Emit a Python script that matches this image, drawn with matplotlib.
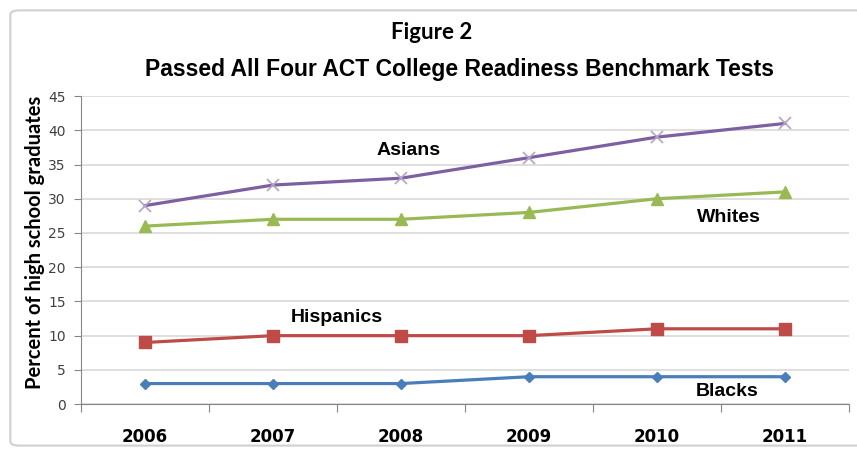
import matplotlib
matplotlib.use("Agg")
import matplotlib.pyplot as plt
from matplotlib.patches import FancyBboxPatch

years = ["2006", "2007", "2008", "2009", "2010", "2011"]
asians = [29, 32, 33, 36, 39, 41]
whites = [26, 27, 27, 28, 30, 31]
hispanics = [9, 10, 10, 10, 11, 11]
blacks = [3, 3, 3, 4, 4, 4]

fig = plt.figure(figsize=(8.57, 4.51), dpi=100)
fig.patch.set_facecolor("white")

# light rounded border round the chart area
border = FancyBboxPatch((0.012, 0.012), 1.05, 0.965, boxstyle="round,pad=0,rounding_size=0.01",
                        transform=fig.transFigure, facecolor="none", edgecolor="#d0d0d0", lw=1.5)
fig.patches.append(border)

ax = fig.add_axes([0.0945, 0.104, 0.896, 0.683])
x = range(len(years))

ax.plot(x, blacks, color="#4a7ebb", lw=2.3, marker="D", ms=5.5, zorder=3)
ax.plot(x, hispanics, color="#be4b48", lw=2.3, marker="s", ms=8, zorder=3)
ax.plot(x, whites, color="#98b954", lw=2.3, marker="^", ms=8, zorder=3)
ax.plot(x, asians, color="#7d60a0", lw=2.3, marker="x", ms=9, mec="#b3a2c7", mew=1.2, zorder=3)

ax.set_xlim(-0.5, 5.5)
ax.set_ylim(0, 45)
ax.set_yticks(range(0, 50, 5))
ax.set_xticks([i - 0.5 for i in range(7)], minor=False)
ax.set_xticklabels([])
ax.set_xticks(list(x), minor=True)
ax.set_xticklabels(years, minor=True, fontsize=12, fontweight="bold", family="Liberation Sans Narrow")
ax.tick_params(axis="x", which="major", length=6, color="#868686")
ax.tick_params(axis="x", which="minor", length=0, pad=17)
ax.tick_params(axis="y", length=5, color="#868686", labelsize=10, labelcolor="#404040", pad=6)

ax.grid(axis="y", color="#d9d9d9", lw=1.2)
ax.set_axisbelow(True)
for side in ["top", "right"]:
    ax.spines[side].set_visible(False)
ax.spines["left"].set_color("#868686")
ax.spines["bottom"].set_color("#868686")

ax.set_ylabel("Percent of high school graduates", fontsize=14.5, fontweight="bold", family="Lato")
ax.yaxis.set_label_coords(-0.047, 0.525)

lbl = dict(fontsize=14, fontweight="bold", ha="center", va="center", family="Liberation Sans")
ax.text(2.06, 37.1, "Asians", **lbl)
ax.text(4.56, 27.3, "Whites", **lbl)
ax.text(1.5, 12.6, "Hispanics", **lbl)
ax.text(4.55, 1.9, "Blacks", **lbl)

fig.text(0.504, 0.927, "Figure 2", fontsize=16, fontweight="bold", ha="center", va="center", family="Lato")
fig.text(0.536, 0.845, "Passed All Four ACT College Readiness Benchmark Tests", fontsize=16.5,
         fontweight="bold", ha="center", va="center", family="Liberation Sans")

fig.savefig("out.png", dpi=100)
